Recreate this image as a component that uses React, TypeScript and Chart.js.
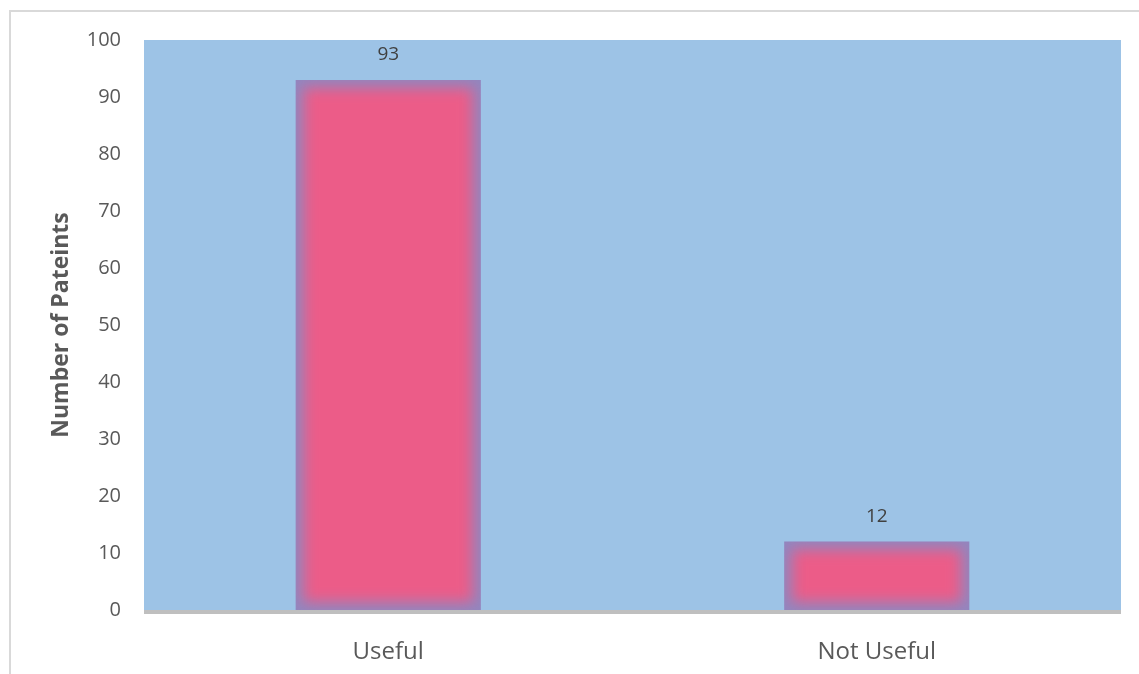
import { useEffect, useRef } from 'react';
import { Chart, registerables } from 'chart.js';

Chart.register(...registerables);

// Survey answers: how many patients found it useful
const categories = ['Useful', 'Not Useful'];
const patients = [93, 12];
const yMin = 0;
const yMax = 100;
const yStep = 10;
const yTitle = 'Number of Pateints';

const FONT = "'Open Sans', 'Liberation Sans', sans-serif";
const PLOT_BG = '#9DC3E6';
const BAR_EDGE = '#9286BF';
const BAR_FILL = '#EC5C88';
const AXIS_TEXT = '#595959';

// Frame, plot background, glowing bars, baseline and value labels
const decorations = {
  id: 'decorations',
  beforeDraw(chart: any) {
    const { ctx, chartArea } = chart;
    ctx.save();
    ctx.fillStyle = '#FFFFFF';
    ctx.fillRect(0, 0, chart.width, chart.height);
    ctx.fillStyle = '#D9D9D9';
    ctx.fillRect(9, 10, chart.width - 9, 2);
    ctx.fillRect(9, 10, 2, chart.height - 10);
    ctx.fillStyle = PLOT_BG;
    ctx.fillRect(chartArea.left, chartArea.top, chartArea.right - chartArea.left, chartArea.bottom - chartArea.top);
    ctx.restore();
  },
  afterDatasetsDraw(chart: any) {
    const { ctx, chartArea } = chart;
    const meta = chart.getDatasetMeta(0);
    meta.data.forEach((el: any, i: number) => {
      const { x, y, base, width } = el.getProps(['x', 'y', 'base', 'width'], true);
      const left = x - width / 2;
      const h = base - y;
      ctx.save();
      ctx.beginPath();
      ctx.rect(left, y, width, h);
      ctx.clip();
      ctx.filter = 'blur(7px)';
      ctx.fillStyle = BAR_FILL;
      const inset = 8;
      ctx.fillRect(left + inset, y + inset, width - inset * 2, Math.max(h - inset * 2, 2));
      ctx.restore();

      ctx.save();
      ctx.fillStyle = '#404040';
      ctx.font = `19px ${FONT}`;
      ctx.textAlign = 'center';
      ctx.textBaseline = 'middle';
      ctx.fillText(String(patients[i]), x, y - 25);
      ctx.restore();
    });
    ctx.save();
    ctx.fillStyle = '#BFBFBF';
    ctx.fillRect(chartArea.left, chartArea.bottom, chartArea.right - chartArea.left, 4);
    ctx.restore();
  },
};

export default function App() {
  const canvasRef = useRef<HTMLCanvasElement>(null);

  useEffect(() => {
    const chart = new Chart(canvasRef.current!, {
      type: 'bar',
      data: {
        labels: categories,
        datasets: [
          {
            data: patients,
            backgroundColor: BAR_EDGE,
            borderWidth: 0,
            barPercentage: 0.379,
            categoryPercentage: 1,
          },
        ],
      },
      options: {
        animation: false,
        responsive: true,
        maintainAspectRatio: false,
        layout: { padding: { top: 40, right: 18, left: 0, bottom: 0 } },
        plugins: {
          legend: { display: false },
          tooltip: { enabled: false },
        },
        scales: {
          x: {
            grid: { display: false, drawTicks: false },
            border: { display: false },
            ticks: {
              color: AXIS_TEXT,
              font: { family: FONT, size: 24 },
              padding: 28,
            },
            afterFit(scale: any) {
              scale.height = 64;
            },
          },
          y: {
            min: yMin,
            max: yMax,
            grid: { display: false, drawTicks: false },
            border: { display: false },
            ticks: {
              stepSize: yStep,
              color: AXIS_TEXT,
              font: { family: FONT, size: 20 },
              padding: 23,
            },
            title: {
              display: true,
              text: yTitle,
              color: AXIS_TEXT,
              font: { family: FONT, size: 23, weight: 'bold' },
              padding: { top: 48, bottom: 0 },
            },
            afterFit(scale: any) {
              scale.width = 144;
            },
          },
        },
      },
      plugins: [decorations],
    });
    return () => chart.destroy();
  }, []);

  return (
    <div style={{ position: 'fixed', left: 0, top: 0, width: 1139, height: 674, background: '#fff' }}>
      <canvas ref={canvasRef} />
    </div>
  );
}
